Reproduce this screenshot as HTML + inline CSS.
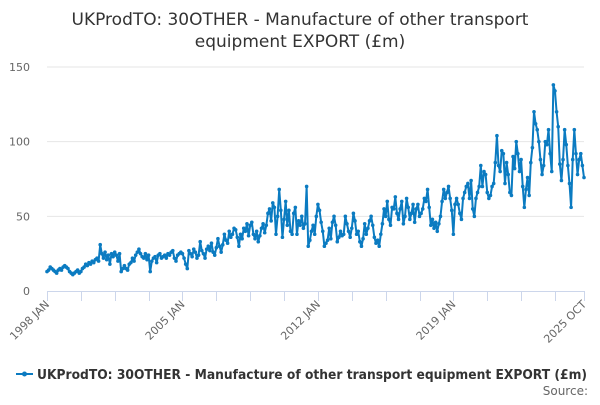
<!DOCTYPE html>
<html><head><meta charset="utf-8"><style>
body{margin:0;background:#fff;width:600px;height:400px;overflow:hidden;font-family:"Liberation Sans","DejaVu Sans",sans-serif}
svg text{font-family:"DejaVu Sans","Liberation Sans",sans-serif}
</style></head><body>
<svg id="chart" width="600" height="400">
<text x="300" y="25" text-anchor="middle" font-size="17" fill="#333">UKProdTO: 30OTHER - Manufacture of other transport</text>
<text x="300" y="47" text-anchor="middle" font-size="17" fill="#333">equipment EXPORT (£m)</text>
<g id="grid"></g><g id="xaxis"></g><g id="series"></g>
<g>
<line x1="16" y1="374" x2="33" y2="374" stroke="#0b7bc1" stroke-width="2"/>
<circle cx="24.5" cy="374" r="2.5" fill="#0b7bc1"/>
<text x="37" y="379" font-size="13" font-weight="bold" fill="#333" textLength="550" lengthAdjust="spacingAndGlyphs">UKProdTO: 30OTHER - Manufacture of other transport equipment EXPORT (£m)</text>
</g>
<text x="588" y="395" text-anchor="end" font-size="12" fill="#666">Source:</text>
</svg>
<script>
const yTicks=[0,50,100,150];
const xTickLabels=["1998 JAN","2005 JAN","2012 JAN","2019 JAN","2025 OCT"];
const xTickIndex=[0,84,168,252,333];
const values=[
13,14,16,15,14,13,12,14,15,14,16,17,
16,15,13,12,11,12,13,14,12,13,15,16,
18,17,19,18,20,19,21,22,20,31,25,22,
26,21,24,18,25,23,26,24,20,25,13,15,
17,15,14,18,19,22,20,24,26,28,25,23,
22,25,21,24,13,20,22,23,19,24,25,22,
23,24,22,25,24,26,27,22,20,24,25,26,
25,22,18,15,27,25,23,28,26,22,24,33,
27,25,22,28,30,27,32,26,24,29,35,30,
26,31,38,34,32,40,36,38,42,41,36,30,
38,35,42,40,45,37,44,46,38,35,40,33,
37,42,45,39,44,52,55,47,59,56,38,50,
68,54,36,48,60,44,54,40,38,52,56,38,
47,44,50,42,45,70,30,34,40,44,38,50,
58,54,46,40,30,32,34,42,35,46,50,44,
33,36,40,37,38,50,45,40,36,42,52,47,
38,40,33,30,35,45,38,42,47,50,44,36,
32,34,30,38,45,55,50,60,48,44,56,55,
63,52,48,55,60,45,50,62,56,48,52,58,
46,55,58,50,52,55,62,60,68,56,44,48,
42,46,40,45,50,60,68,62,66,70,62,54,
38,58,62,58,52,48,62,66,70,72,62,74,
55,50,62,66,70,84,70,80,78,66,62,64,
70,72,86,104,84,80,94,92,72,86,78,66,
64,90,82,100,92,80,88,70,56,68,76,64,
86,96,120,112,108,100,88,78,84,100,98,108,
92,80,138,134,120,110,85,74,88,108,98,84,
72,56,88,108,92,78,88,92,84,76];
const NS="http://www.w3.org/2000/svg";
const X0=47,X1=584,Y0=291,Y150=67;
function xs(i){return X0+(X1-X0)*i/(values.length-1);}
function ys(v){return Y0-(Y0-Y150)*v/150;}
const grid=document.getElementById('grid');
yTicks.forEach(t=>{
  if(t>0){const l=document.createElementNS(NS,'line');
  l.setAttribute('x1',X0);l.setAttribute('x2',X1);l.setAttribute('y1',ys(t));l.setAttribute('y2',ys(t));
  l.setAttribute('stroke','#e6e6e6');
  
  
  grid.appendChild(l);}
  const tx=document.createElementNS(NS,'text');
  tx.setAttribute('x',30);tx.setAttribute('y',ys(t)+4);tx.setAttribute('text-anchor','end');
  tx.setAttribute('font-size','11');tx.setAttribute('fill','#666');tx.textContent=t;
  
  
  grid.appendChild(tx);
});
const xa=document.getElementById('xaxis');
const ax=document.createElementNS(NS,'line');
ax.setAttribute('x1',X0);ax.setAttribute('x2',X1);ax.setAttribute('y1',Y0+0.5);ax.setAttribute('y2',Y0+0.5);ax.setAttribute('stroke','#ccd6eb');


xa.appendChild(ax);
for(let i=0;i<values.length;i+=21){
  const t=document.createElementNS(NS,'line');const x=Math.round(xs(i))+0.5;
  t.setAttribute('x1',x);t.setAttribute('x2',x);t.setAttribute('y1',Y0);t.setAttribute('y2',Y0+10);t.setAttribute('stroke','#ccd6eb');
  
  
  xa.appendChild(t);
}
const te=document.createElementNS(NS,'line');const xe=Math.round(xs(values.length-1))+0.5;
te.setAttribute('x1',xe);te.setAttribute('x2',xe);te.setAttribute('y1',Y0);te.setAttribute('y2',Y0+10);te.setAttribute('stroke','#ccd6eb');


xa.appendChild(te);
xTickLabels.forEach((lab,k)=>{
  const x=xs(xTickIndex[k])+3,y=Y0+14;
  const tx=document.createElementNS(NS,'text');
  tx.setAttribute('x',x);tx.setAttribute('y',y);tx.setAttribute('text-anchor','end');
  tx.setAttribute('font-size','11');tx.setAttribute('fill','#666');
  tx.setAttribute('transform','rotate(-45 '+x+' '+y+')');tx.textContent=lab;
  
  
  xa.appendChild(tx);
});
const sg=document.getElementById('series');
const p=document.createElementNS(NS,'path');
p.setAttribute('d',values.map((v,i)=>(i?'L':'M')+xs(i).toFixed(2)+' '+ys(v).toFixed(2)).join(''));
p.setAttribute('fill','none');p.setAttribute('stroke','#0b7bc1');p.setAttribute('stroke-width','2');p.setAttribute('stroke-linejoin','round');


sg.appendChild(p);
values.forEach((v,i)=>{
  const c=document.createElementNS(NS,'circle');
  c.setAttribute('cx',xs(i));c.setAttribute('cy',ys(v));c.setAttribute('r','1.8');c.setAttribute('fill','#0b7bc1');
  
  
  sg.appendChild(c);
});
</script>
</body></html>
